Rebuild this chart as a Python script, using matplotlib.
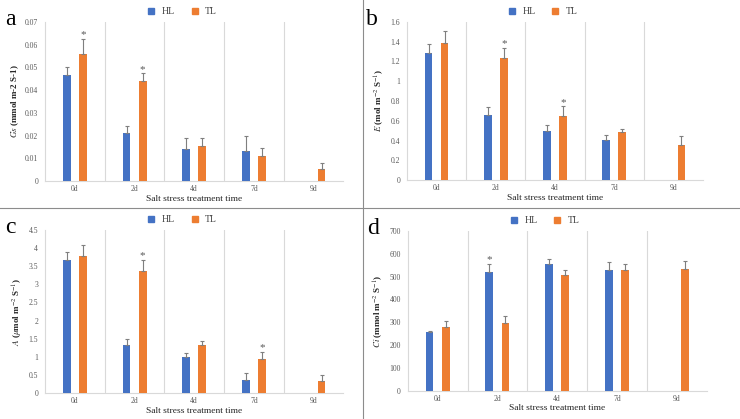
import numpy as np
import matplotlib.pyplot as plt
from matplotlib.lines import Line2D

plt.rcParams['font.family'] = ['Liberation Serif', 'DejaVu Serif']
plt.rcParams['mathtext.fontset'] = 'stix'

days = ['0d', '2d', '4d', '7d', '9d']
series_names = ['HL', 'TL']

# Gs
gs_hl = [0.0468, 0.0210, 0.0140, 0.0133, np.nan]
gs_tl = [0.0558, 0.0440, 0.0153, 0.0108, 0.0051]
gs_hl_err = [0.0035, 0.0030, 0.0047, 0.0063, np.nan]
gs_tl_err = [0.0067, 0.0033, 0.0034, 0.0039, 0.0029]
gs_star_hl = []
gs_star_tl = [0, 1]

# E
e_hl = [1.285, 0.655, 0.495, 0.405, np.nan]
e_tl = [1.39, 1.23, 0.645, 0.485, 0.355]
e_hl_err = [0.095, 0.080, 0.060, 0.050, np.nan]
e_tl_err = [0.120, 0.110, 0.100, 0.030, 0.095]
e_star_hl = []
e_star_tl = [1, 2]

# A
a_hl = [3.66, 1.32, 1.00, 0.37, np.nan]
a_tl = [3.79, 3.38, 1.32, 0.94, 0.33]
a_hl_err = [0.22, 0.17, 0.10, 0.19, np.nan]
a_tl_err = [0.31, 0.30, 0.11, 0.19, 0.17]
a_star_hl = []
a_star_tl = [1, 3]

# Ci
ci_hl = [258, 520, 555, 527, np.nan]
ci_tl = [280, 295, 507, 530, 533]
ci_hl_err = [4, 35, 20, 38, np.nan]
ci_tl_err = [25, 32, 20, 23, 34]
ci_star_hl = [1]
ci_star_tl = []

BLUE = '#4472C4'
ORANGE = '#ED7D31'
GRID = '#D9D9D9'
TICK = '#595959'


def fmt(v):
    s = ('%.2f' % v).rstrip('0').rstrip('.')
    return s


def draw_panel(rect, letter, hl, tl, hl_err, tl_err, star_hl, star_tl,
               ymax, ystep, ylabel, decimals=True):
    ax = fig.add_axes(rect)
    x = np.arange(len(days))
    off = 0.135
    w = 0.13
    ax.bar(x - off, hl, w, color=BLUE, zorder=3)
    ax.bar(x + off, tl, w, color=ORANGE, zorder=3)
    for xs, vals, errs in [(x - off, hl, hl_err), (x + off, tl, tl_err)]:
        v = np.array(vals, dtype=float)
        e = np.array(errs, dtype=float)
        ok = ~np.isnan(v)
        ax.errorbar(xs[ok], v[ok], yerr=[np.zeros(ok.sum()), e[ok]], fmt='none',
                    ecolor='#7F7F7F', elinewidth=0.8, capsize=1.2, capthick=0.8, zorder=4)
    pad = ymax * 0.025
    for i in star_hl:
        ax.text(i - off, hl[i] + hl_err[i] + pad, '*', ha='center', va='center',
                fontsize=8, color='#595959', zorder=5)
    for i in star_tl:
        ax.text(i + off, tl[i] + tl_err[i] + pad, '*', ha='center', va='center',
                fontsize=8, color='#595959', zorder=5)

    ax.set_xlim(-0.5, len(days) - 0.5)
    ax.set_ylim(0, ymax)
    ticks = np.arange(0, ymax + ystep / 2, ystep)
    ax.set_yticks(ticks)
    ax.set_yticklabels([fmt(t) if decimals else '%d' % t for t in ticks])
    ax.set_xticks(x)
    ax.set_xticklabels(days)
    for b in np.arange(0.5, len(days) - 0.5, 1):
        ax.axvline(b, color=GRID, lw=0.8, zorder=1)
    for s in ['top', 'right']:
        ax.spines[s].set_visible(False)
    ax.spines['left'].set_color(GRID)
    ax.spines['bottom'].set_color(GRID)
    ax.tick_params(axis='y', length=0, labelsize=5.5, colors=TICK, pad=5)
    ax.tick_params(axis='x', length=0, labelsize=5.5, colors=TICK, pad=3)
    ax.set_ylabel(ylabel, fontsize=6.5, fontweight='bold', color='#262626', labelpad=3)
    ax.set_xlabel('Salt stress treatment time', fontsize=6.8, color='#262626', labelpad=1)

    handles = [Line2D([], [], marker='s', ls='none', color=BLUE, markersize=4),
               Line2D([], [], marker='s', ls='none', color=ORANGE, markersize=4)]
    ax.legend(handles, series_names, loc='lower center', bbox_to_anchor=(0.45, 1.0),
              ncol=2, frameon=False, fontsize=7, handletextpad=0.1,
              columnspacing=1.0, borderaxespad=0.2, labelcolor='#404040')
    fig.text(rect[0] - 0.047, rect[1] + rect[3] + 0.005, letter, fontsize=17,
             ha='center', va='center')
    return ax


fig = plt.figure(figsize=(7.4, 4.19), dpi=100)

draw_panel([0.061, 0.568, 0.403, 0.380], 'a', gs_hl, gs_tl, gs_hl_err, gs_tl_err,
           gs_star_hl, gs_star_tl, 0.07, 0.01, r'$Gs$ (mmol m-2 S-1)')
draw_panel([0.550, 0.570, 0.400, 0.378], 'b', e_hl, e_tl, e_hl_err, e_tl_err,
           e_star_hl, e_star_tl, 1.6, 0.2, r'$E$ (mol m$^{-2}$ S$^{-1}$)')
draw_panel([0.061, 0.062, 0.403, 0.389], 'c', a_hl, a_tl, a_hl_err, a_tl_err,
           a_star_hl, a_star_tl, 4.5, 0.5, r'$A$ ($\mu$mol m$^{-2}$ S$^{-1}$)')
draw_panel([0.551, 0.067, 0.404, 0.382], 'd', ci_hl, ci_tl, ci_hl_err, ci_tl_err,
           ci_star_hl, ci_star_tl, 700, 100, r'$Ci$ (mmol m$^{-2}$ S$^{-1}$)', decimals=False)

# panel dividers
fig.add_artist(Line2D([363 / 740, 363 / 740], [0, 1], color='#8C8C8C', lw=0.8))
fig.add_artist(Line2D([0, 1], [1 - 208 / 419, 1 - 208 / 419], color='#8C8C8C', lw=0.8))

fig.savefig('out.png', dpi=100)
